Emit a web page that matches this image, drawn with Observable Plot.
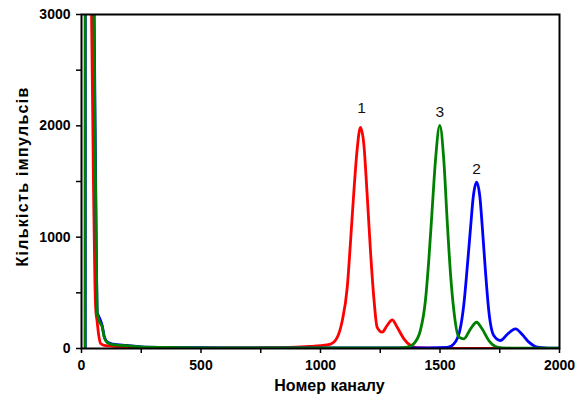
<!DOCTYPE html>
<html>
<head>
<meta charset="utf-8">
<script src="https://cdn.jsdelivr.net/npm/d3@7"></script>
<script src="https://cdn.jsdelivr.net/npm/@observablehq/plot@0.6"></script>
<style>
  html, body { margin: 0; padding: 0; background: #fff; }
</style>
</head>
<body>
<div id="chart"></div>
<script>
// Spectrum 1 (red)
const redCh = [38, 42, 50, 56, 60, 65, 72, 80, 100, 150, 200, 300, 400, 500, 600, 700, 800, 900, 950, 1000, 1042, 1070, 1091, 1112, 1125, 1139, 1153, 1167, 1181, 1195, 1209, 1223, 1237, 1258, 1279, 1300, 1321, 1349, 1377, 1400, 1450, 1500, 1600, 1740];
const redN  = [3400, 3000, 1500, 600, 340, 250, 120, 45, 25, 18, 12, 8, 6, 5, 5, 6, 8, 12, 18, 25, 40, 100, 250, 551, 940, 1390, 1780, 1985, 1840, 1390, 880, 460, 190, 147, 207, 258, 190, 87, 27, 8, 3, 2, 2, 2];

// Spectrum 2 (blue)
const blueCh = [16, 17, 53, 58, 62, 66, 72, 78, 86, 95, 107, 130, 190, 250, 350, 500, 700, 900, 1100, 1300, 1450, 1530, 1558, 1583, 1600, 1614, 1628, 1639, 1653, 1667, 1677, 1690, 1704, 1725, 1753, 1781, 1816, 1844, 1872, 1907, 1954, 2000];
const blueN  = [0, 20000, 3000, 1800, 900, 320, 290, 260, 210, 110, 60, 40, 27, 15, 10, 7, 6, 5, 5, 5, 5, 9, 42, 162, 401, 730, 1090, 1359, 1494, 1359, 1090, 700, 341, 117, 72, 126, 177, 126, 57, 12, 4, 2];

// Spectrum 3 (green)
const greenCh = [15, 17, 52, 57, 62, 66, 72, 80, 86, 95, 107, 130, 190, 250, 350, 500, 700, 900, 1100, 1200, 1300, 1340, 1363, 1390, 1418, 1439, 1453, 1467, 1481, 1499, 1516, 1530, 1544, 1558, 1579, 1600, 1628, 1653, 1676, 1704, 1732, 1760, 1800, 1900, 2000];
const greenN  = [0, 20000, 3000, 1800, 800, 320, 260, 220, 200, 100, 55, 35, 25, 15, 10, 6, 5, 5, 5, 5, 6, 8, 12, 42, 162, 431, 790, 1240, 1689, 2003, 1689, 1150, 671, 341, 102, 87, 177, 236, 177, 72, 18, 6, 4, 3, 2];

// Peak labels
const peakLabels = ["1", "3", "2"];
const peakLabelCh = [1172, 1499, 1653];
const peakLabelN = [2156, 2122, 1608];

// Axis ticks
const xTicks = [0, 500, 1000, 1500, 2000];
const xMinor = [250, 750, 1250, 1750];
const yTicks = [0, 1000, 2000, 3000];
const yMinor = [500, 1500, 2500];

const xTitle = "Номер каналу";
const yTitle = "Кількість імпульсів";

const toRows = (ch, n) => ch.map((c, i) => ({ch: c, n: n[i]}));
const red = toRows(redCh, redN);
const blue = toRows(blueCh, blueN);
const green = toRows(greenCh, greenN);
const labels = peakLabels.map((t, i) => ({t, ch: peakLabelCh[i], n: peakLabelN[i]}));

const lineOpts = {x: "ch", y: "n", strokeWidth: 2.8, clip: true, curve: "monotone-x", strokeLinejoin: "round"};

const chart = Plot.plot({
  width: 587,
  height: 396,
  marginLeft: 81,
  marginRight: 28,
  marginTop: 14,
  marginBottom: 48,
  style: {fontFamily: "'Liberation Sans', Arial, sans-serif", background: "#fff", color: "#000"},
  x: {domain: [0, 2000], label: null},
  y: {domain: [0, 3000], label: null},
  marks: [
    Plot.line(red, {...lineOpts, stroke: "#ff0000"}),
    Plot.line(blue, {...lineOpts, stroke: "#0000ff"}),
    Plot.line(green, {...lineOpts, stroke: "#008000"}),
    Plot.text(labels, {x: "ch", y: "n", text: "t", fontSize: 15.5, fill: "#111", lineAnchor: "middle"}),
    Plot.axisX(xMinor, {tickSize: 5, tickFormat: () => "", strokeWidth: 1.5, label: null}),
    Plot.axisX(xTicks, {tickSize: 5, tickPadding: 7, strokeWidth: 1.5, fontSize: 14, fontWeight: "bold", tickFormat: d => String(d), label: null}),
    Plot.axisY(yMinor, {tickSize: 5, tickFormat: () => "", strokeWidth: 1.5, label: null}),
    Plot.axisY(yTicks, {tickSize: 5, tickPadding: 6, strokeWidth: 1.5, fontSize: 14, fontWeight: "bold", tickFormat: d => String(d), label: null}),
    Plot.frame({stroke: "#000", strokeWidth: 2}),
    Plot.text([xTitle], {frameAnchor: "bottom", dy: 37, dx: 9, fontSize: 16, fontWeight: "bold", lineAnchor: "middle"}),
    Plot.text([yTitle], {frameAnchor: "left", textAnchor: "middle", rotate: -90, dx: -59, dy: -5, fontSize: 16, fontWeight: "bold", lineAnchor: "middle", className: "ytitle"})
  ]
});
d3.select(chart).selectAll(".ytitle text").attr("letter-spacing", "1.3px");
document.getElementById("chart").appendChild(chart);
</script>
</body>
</html>
